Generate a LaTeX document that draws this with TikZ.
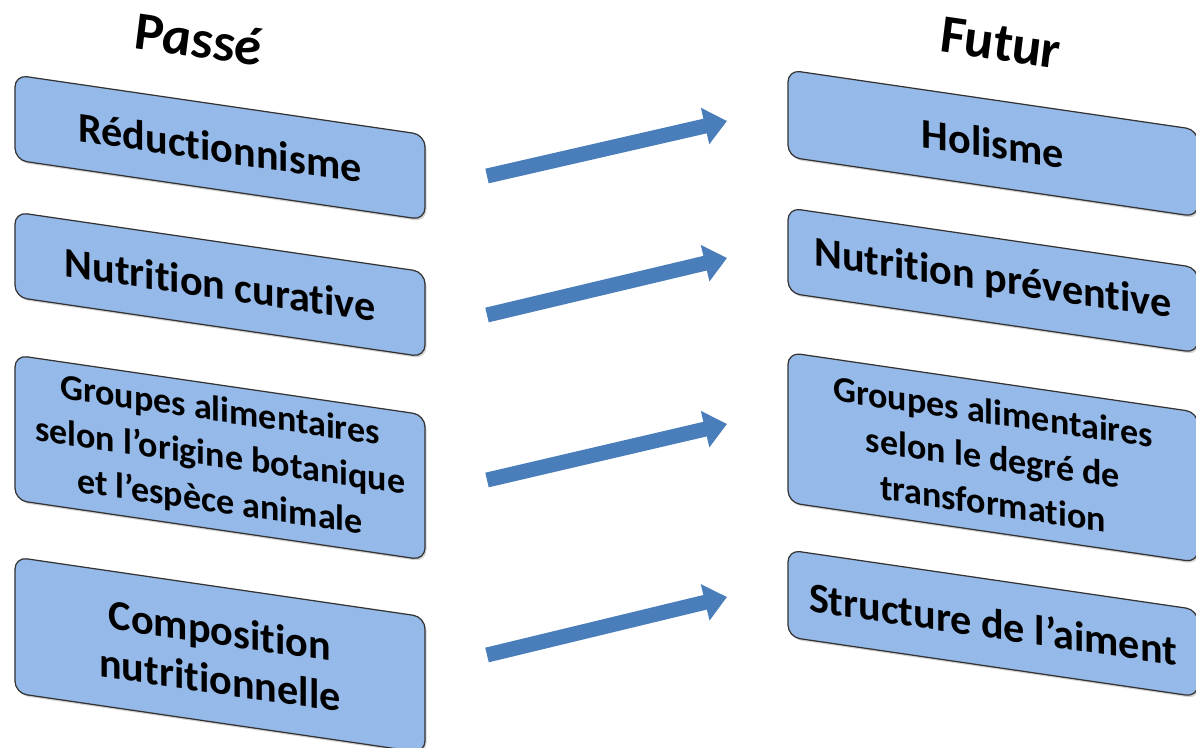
\documentclass[tikz,border=0pt]{standalone}
\usepackage{fontspec}
\setmainfont{Carlito}[Ligatures={NoCommon,NoContextual}]
\usetikzlibrary{arrows.meta,shadows}
\definecolor{boxblue}{RGB}{149,185,232}
\definecolor{arrowblue}{RGB}{74,126,187}
\begin{document}
\begin{tikzpicture}
  \tikzstyle{boite}  = [draw=black!80,line width=0.7pt,fill=boxblue,rounded corners=0.24cm,
                        minimum width=8.2cm,align=center,transform shape,inner xsep=2pt,
                        font=\fontsize{24}{28}\selectfont\bfseries,
                        drop shadow={opacity=0.35,shadow xshift=0.03cm,shadow yshift=-0.04cm}]
  \tikzstyle{petit}  = [font=\fontsize{20.5}{26}\selectfont\bfseries]
  \tikzstyle{titre}  = [transform shape,font=\fontsize{31}{35}\selectfont\bfseries\itshape]
  \tikzstyle{fleche} = [draw=arrowblue,line width=0.3cm,-{Triangle[length=0.45cm,width=0.72cm]}]
  \useasboundingbox (0,0) rectangle (23.92,-14.94);
  % slanted columns
  \begin{scope}[yslant=-0.146]
    \path (3.96,-0.20)  node[titre](tp) {Passé};
    \path (20.0, 2.06)  node[titre](tf) {Futur};
    % Passe
    \path (4.4,-2.306)  node[boite,minimum height=1.7cm](p1) {Réductionnisme};
    \path (4.4,-5.048)  node[boite,minimum height=1.7cm](p2) {Nutrition curative};
    \path (4.4,-8.508)  node[boite,petit,minimum height=2.9cm](p3)
      {Groupes alimentaires\\selon l’origine botanique\\et l’espèce animale};
    \path (4.4,-12.458) node[boite,minimum height=2.72cm](p4) {Composition\\nutritionnelle};
    % Futur
    \path (19.86, 0.032) node[boite,minimum height=1.74cm](f1) {Holisme};
    \path (19.86,-2.708) node[boite,minimum height=1.7cm](f2) {Nutrition préventive};
    \path (19.86,-6.248) node[boite,petit,minimum height=3.0cm](f3)
      {Groupes alimentaires\\selon le degré de\\transformation};
    \path (19.86,-9.568) node[boite,minimum height=1.74cm](f4) {Structure de l’aiment};
  \end{scope}
  % arrows
  \coordinate (s1) at (9.74,-3.52);  \coordinate (e1) at (14.54,-2.42);
  \coordinate (s2) at (9.74,-6.30);  \coordinate (e2) at (14.54,-5.16);
  \coordinate (s3) at (9.74,-9.60);  \coordinate (e3) at (14.54,-8.48);
  \coordinate (s4) at (9.74,-13.10); \coordinate (e4) at (14.54,-11.94);
  \draw[fleche] (s1) -- (e1);
  \draw[fleche] (s2) -- (e2);
  \draw[fleche] (s3) -- (e3);
  \draw[fleche] (s4) -- (e4);
\end{tikzpicture}
\end{document}
